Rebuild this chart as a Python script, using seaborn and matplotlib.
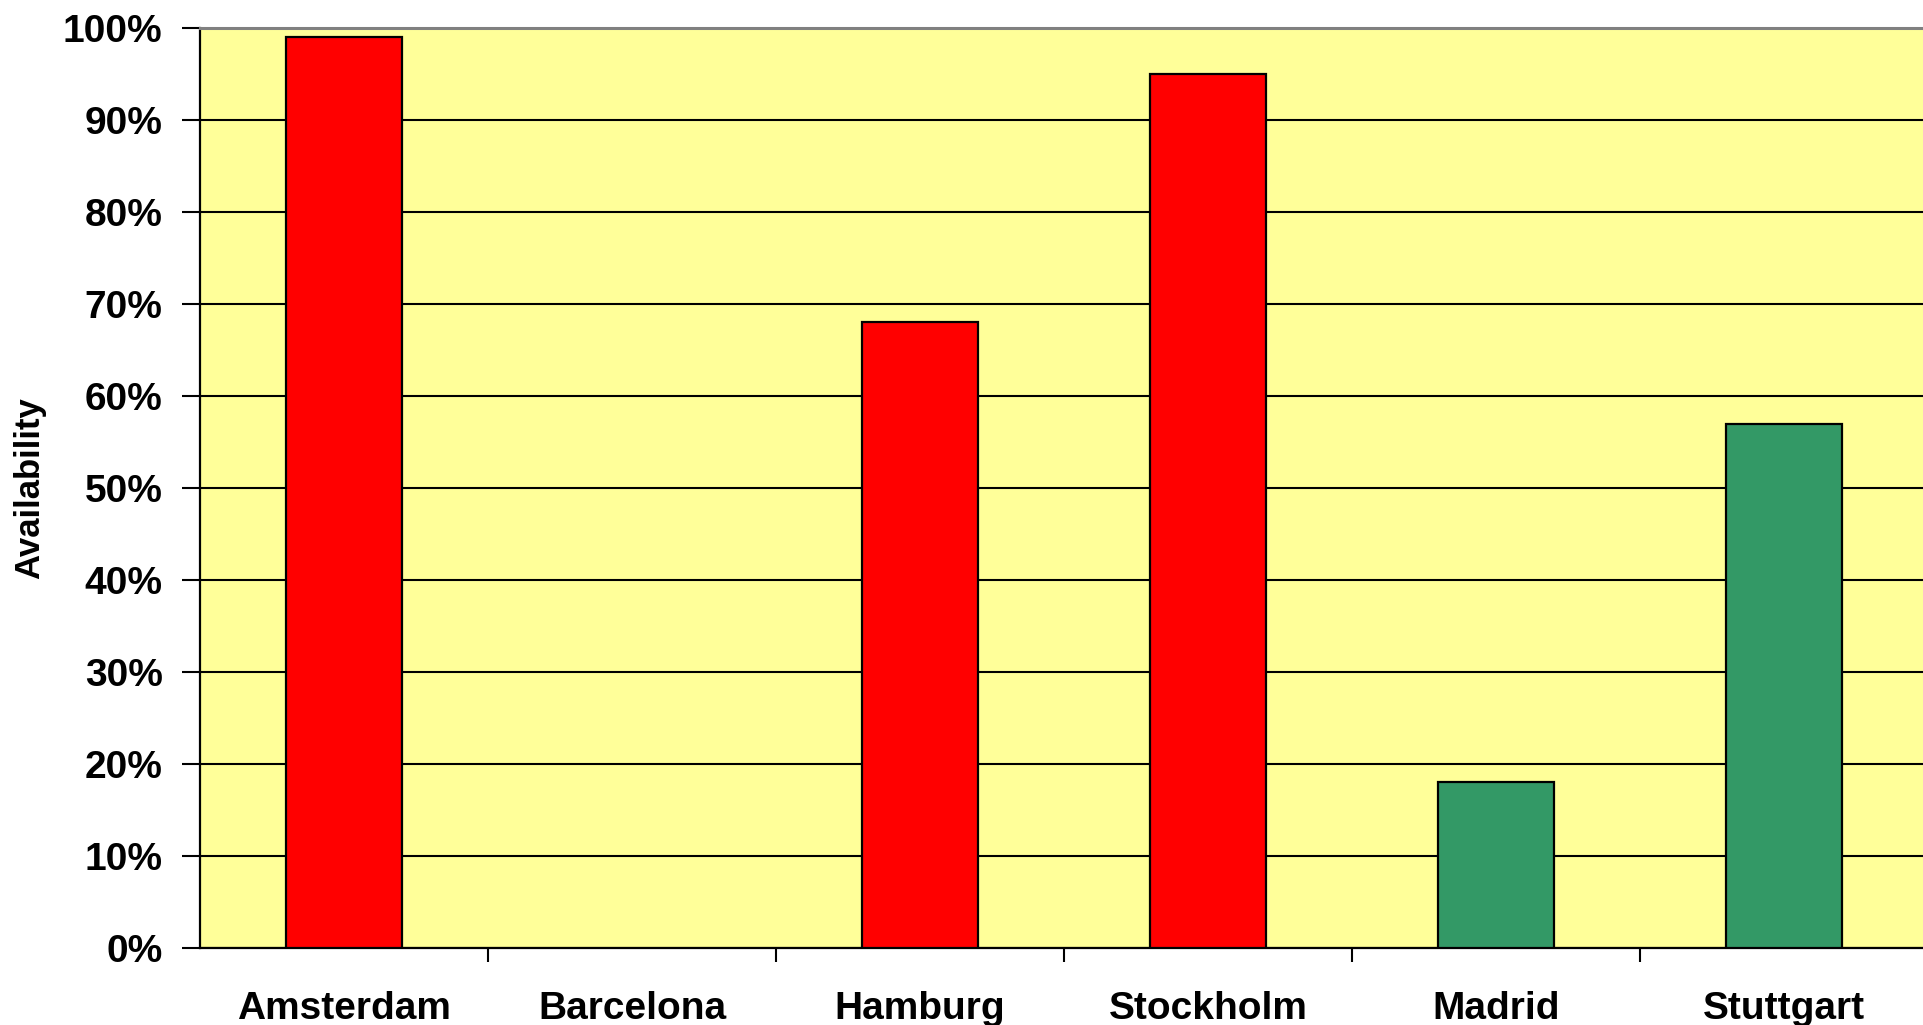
import numpy as np
import matplotlib
matplotlib.use("Agg")
import matplotlib.pyplot as plt
from matplotlib.ticker import PercentFormatter, FixedLocator
import seaborn as sns

# Availability per city (fraction of time); Barcelona has no reading
cities = ["Amsterdam", "Barcelona", "Hamburg", "Stockholm", "Madrid", "Stuttgart"]
availability = [0.99, np.nan, 0.68, 0.95, 0.18, 0.57]
bar_colors = ["#FF0000", "#FF0000", "#FF0000", "#FF0000", "#339966", "#339966"]
y_ticks = [i / 10 for i in range(11)]

sns.set_theme(style="white")
plt.rcParams["font.family"] = ["Liberation Sans", "DejaVu Sans"]
plt.rcParams["font.weight"] = "bold"
for key in ("text.color", "axes.labelcolor", "xtick.color", "ytick.color",
            "xtick.labelcolor", "ytick.labelcolor"):
    plt.rcParams[key] = "black"

fig = plt.figure(figsize=(19.24, 10.25), dpi=100)
ax = fig.add_axes([200 / 1924, 77 / 1025, 1728 / 1924, 920 / 1025])
ax.set_facecolor("#FFFF99")

sns.barplot(x=cities, y=availability, hue=cities, palette=bar_colors,
            legend=False, width=0.4, edgecolor="black", linewidth=1.6,
            saturation=1, ax=ax, zorder=3)

ax.set_xlim(-0.5, len(cities) - 0.5)
ax.set_ylim(0, 1)
ax.yaxis.set_major_locator(FixedLocator(y_ticks))
ax.yaxis.set_major_formatter(PercentFormatter(1.0, decimals=0))
ax.grid(axis="y", color="black", linewidth=1.5, zorder=1)
ax.grid(axis="x", visible=False)
ax.set_axisbelow(True)

# Category labels at bar centres, tick marks on category boundaries
ax.xaxis.set_minor_locator(FixedLocator([i + 0.5 for i in range(len(cities) - 1)]))
ax.tick_params(axis="x", which="major", length=0, pad=31, labelsize=28,
               labelcolor="black")
ax.tick_params(axis="x", which="minor", length=10, width=1.5, color="black",
               direction="out", bottom=True)
ax.tick_params(axis="y", which="major", length=13, width=1.5, color="black",
               direction="out", left=True, pad=14, labelsize=28,
               labelcolor="black")
for lab in ax.get_xticklabels() + ax.get_yticklabels():
    lab.set_fontweight("bold")

ax.set_xlabel("")
ax.set_ylabel("Availability", fontsize=25, fontweight="bold", labelpad=12,
              color="black")

for side in ("left", "bottom"):
    ax.spines[side].set_color("black")
    ax.spines[side].set_linewidth(1.6)
ax.spines["top"].set_color("#808080")
ax.spines["top"].set_linewidth(2.2)
ax.spines["right"].set_visible(False)

fig.savefig("out.png", dpi=100, facecolor="white")
